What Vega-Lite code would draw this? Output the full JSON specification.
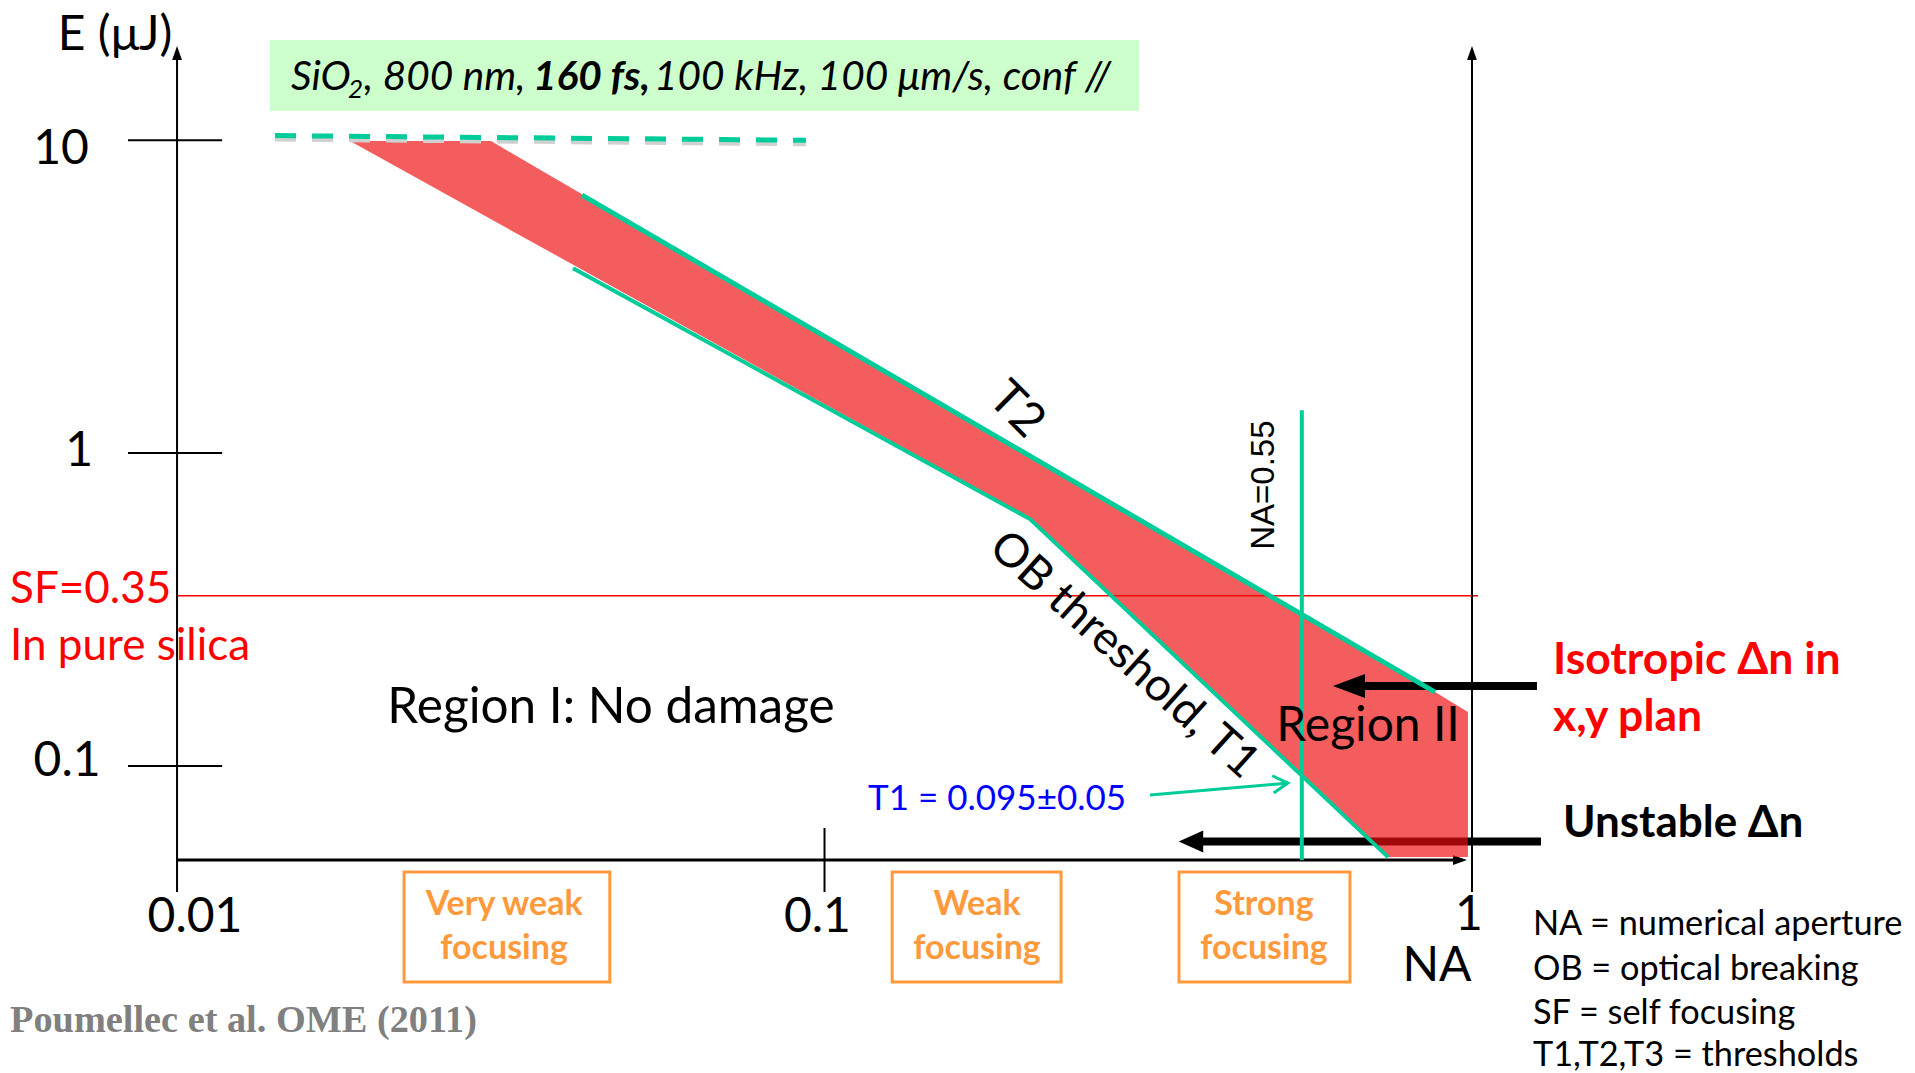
{
  "$schema": "https://vega.github.io/schema/vega-lite/v6.json",
  "width": 1915,
  "height": 1073,
  "autosize": {"type": "none"},
  "padding": 0,
  "background": "white",
  "config": {"view": {"stroke": null}},
  "datasets": {
    "banner": [{"na": 0.01392, "na2": 0.306, "e": 20.9, "e2": 12.4}],
    "boxes": [
      {"na": 0.02242, "na2": 0.0466, "e": 0.04578, "e2": 0.02037},
      {"na": 0.1272, "na2": 0.2319, "e": 0.04578, "e2": 0.02037},
      {"na": 0.3528, "na2": 0.648, "e": 0.04578, "e2": 0.02037}
    ],
    "sf": [{"na": 0.01, "na2": 1.0216, "e": 0.35}],
    "arrows": [
      {"label": "isotropic", "head": 0.6457, "tail": 1.26, "e": 0.18},
      {"label": "unstable", "head": 0.3681, "tail": 1.278, "e": 0.0573}
    ],
    "damage": [
      {"i": 1, "na": 0.0185, "e": 9.94},
      {"i": 2, "na": 0.03055, "e": 9.94},
      {"i": 3, "na": 0.877, "e": 0.1722},
      {"i": 4, "na": 0.9858, "e": 0.1486},
      {"i": 5, "na": 0.9858, "e": 0.0511},
      {"i": 6, "na": 0.742, "e": 0.0511},
      {"i": 7, "na": 0.2077, "e": 0.62}
    ],
    "limit": [{"i": 1, "na": 0.01417, "e": 10.35}, {"i": 2, "na": 0.0936, "e": 10.0}],
    "limitShadow": [{"i": 1, "na": 0.01417, "e": 10.05}, {"i": 2, "na": 0.0936, "e": 9.71}],
    "thresholds": [
      {"t": "T2", "i": 1, "na": 0.04222, "e": 6.68},
      {"t": "T2", "i": 2, "na": 0.877, "e": 0.1722},
      {"t": "T1", "i": 1, "na": 0.04088, "e": 3.9},
      {"t": "T1", "i": 2, "na": 0.2077, "e": 0.615},
      {"t": "T1", "i": 3, "na": 0.742, "e": 0.0511}
    ],
    "na055": [{"na": 0.546, "e": 1.37, "e2": 0.05}],
    "axesV": [{"na": 0.01, "e": 0.0395, "e2": 19.5}, {"na": 1.0, "e": 0.0395, "e2": 19.5}],
    "axisH": [{"na": 0.01, "na2": 0.96, "e": 0.05}],
    "yticks": [
      {"na": 0.0084, "na2": 0.01174, "e": 10},
      {"na": 0.0084, "na2": 0.01174, "e": 1},
      {"na": 0.0084, "na2": 0.01174, "e": 0.1}
    ],
    "xticks": [{"na": 0.1, "e": 0.0633, "e2": 0.0395}],
    "upHeads": [{"na": 0.01, "e": 19.0}, {"na": 1.0, "e": 19.0}],
    "rightHead": [{"na": 0.9583, "e": 0.05}],
    "pointer": [{"na": 0.3182, "na2": 0.5196, "e": 0.0807, "e2": 0.0881}],
    "mainText": [
      {"txt": "E (μJ)", "na": 0.008023, "e": 21.5},
      {"txt": "10", "na": 0.006619, "e": 9.3},
      {"txt": "1", "na": 0.007059, "e": 1.008},
      {"txt": "0.1", "na": 0.006764, "e": 0.1029},
      {"txt": "0.01", "na": 0.01066, "e": 0.03263},
      {"txt": "0.1", "na": 0.0975, "e": 0.03263},
      {"txt": "1", "na": 0.9895, "e": 0.0331},
      {"txt": "NA", "na": 0.883, "e": 0.02275},
      {"txt": "Region II", "na": 0.691, "e": 0.1331}
    ],
    "regionOne": [{"txt": "Region I: No damage", "na": 0.0468, "e": 0.153}],
    "t2": [{"txt": "T2", "na": 0.1976, "e": 1.37}],
    "ob": [{"txt": "OB threshold, T1", "na": 0.2901, "e": 0.226}],
    "naText": [{"txt": "NA=0.55", "na": 0.4773, "e": 0.79}],
    "redText": [
      {"txt": "SF=0.35", "na": 0.005522, "e": 0.3649},
      {"txt": "In pure silica", "na": 0.005522, "e": 0.2398}
    ],
    "blueText": [{"txt": "T1 = 0.095±0.05", "na": 0.1847, "e": 0.0783}],
    "isoText": [
      {"txt": "Isotropic Δn in", "na": 1.334, "e": 0.2164},
      {"txt": "x,y plan", "na": 1.334, "e": 0.1422}
    ],
    "unstableText": [{"txt": "Unstable Δn", "na": 1.382, "e": 0.0652}],
    "legendText": [
      {"txt": "NA = numerical aperture", "na": 1.242, "e": 0.03099},
      {"txt": "OB = optical breaking", "na": 1.242, "e": 0.02224},
      {"txt": "SF = self focusing", "na": 1.242, "e": 0.01609},
      {"txt": "T1,T2,T3 = thresholds", "na": 1.242, "e": 0.0118}
    ],
    "focusText": [
      {"txt": "Very weak", "na": 0.032, "e": 0.0359},
      {"txt": "focusing", "na": 0.032, "e": 0.02597},
      {"txt": "Weak", "na": 0.172, "e": 0.0359},
      {"txt": "focusing", "na": 0.172, "e": 0.02597},
      {"txt": "Strong", "na": 0.4773, "e": 0.0359},
      {"txt": "focusing", "na": 0.4773, "e": 0.02597}
    ],
    "citation": [{"txt": "Poumellec et al. OME  (2011)", "na": 0.005522, "e": 0.01528}],
    "bannerItalic": [
      {"txt": "SiO", "na": 0.015, "e": 14.47},
      {"txt": ", 800 nm,", "na": 0.01945, "e": 14.47},
      {"txt": "100 kHz, 100 μm/s, conf //", "na": 0.05454, "e": 14.47}
    ],
    "bannerBold": [{"txt": "160 fs,", "na": 0.03546, "e": 14.47}],
    "bannerSub": [{"txt": "2", "na": 0.01837, "e": 13.65}]
  },
  "layer": [
    {
      "data": {"name": "banner"},
      "mark": {"type": "rect", "color": "#CCFFCC"},
      "encoding": {
        "x": {"field": "na", "type": "quantitative", "scale": {"type": "log", "domain": [0.005328, 4.833], "nice": false}, "axis": null},
        "x2": {"field": "na2"},
        "y": {"field": "e", "type": "quantitative", "scale": {"type": "log", "domain": [0.010428, 28.08], "nice": false}, "axis": null},
        "y2": {"field": "e2"}
      }
    },
    {
      "data": {"name": "boxes"},
      "mark": {"type": "rect", "filled": false, "color": "#FF9A3C", "strokeWidth": 3},
      "encoding": {
        "x": {"field": "na", "type": "quantitative", "scale": {"type": "log", "domain": [0.005328, 4.833], "nice": false}, "axis": null},
        "x2": {"field": "na2"},
        "y": {"field": "e", "type": "quantitative", "scale": {"type": "log", "domain": [0.010428, 28.08], "nice": false}, "axis": null},
        "y2": {"field": "e2"}
      }
    },
    {
      "data": {"name": "sf"},
      "mark": {"type": "rule", "color": "#FF0000", "strokeWidth": 1.5},
      "encoding": {
        "x": {"field": "na", "type": "quantitative", "scale": {"type": "log", "domain": [0.005328, 4.833], "nice": false}, "axis": null},
        "x2": {"field": "na2"},
        "y": {"field": "e", "type": "quantitative", "scale": {"type": "log", "domain": [0.010428, 28.08], "nice": false}, "axis": null}
      }
    },
    {
      "data": {"name": "axesV"},
      "mark": {"type": "rule", "color": "black", "strokeWidth": 2},
      "encoding": {
        "x": {"field": "na", "type": "quantitative", "scale": {"type": "log", "domain": [0.005328, 4.833], "nice": false}, "axis": null},
        "y": {"field": "e", "type": "quantitative", "scale": {"type": "log", "domain": [0.010428, 28.08], "nice": false}, "axis": null},
        "y2": {"field": "e2"}
      }
    },
    {
      "data": {"name": "axisH"},
      "mark": {"type": "rule", "color": "black", "strokeWidth": 3},
      "encoding": {
        "x": {"field": "na", "type": "quantitative", "scale": {"type": "log", "domain": [0.005328, 4.833], "nice": false}, "axis": null},
        "x2": {"field": "na2"},
        "y": {"field": "e", "type": "quantitative", "scale": {"type": "log", "domain": [0.010428, 28.08], "nice": false}, "axis": null}
      }
    },
    {
      "data": {"name": "yticks"},
      "mark": {"type": "rule", "color": "black", "strokeWidth": 2},
      "encoding": {
        "x": {"field": "na", "type": "quantitative", "scale": {"type": "log", "domain": [0.005328, 4.833], "nice": false}, "axis": null},
        "x2": {"field": "na2"},
        "y": {"field": "e", "type": "quantitative", "scale": {"type": "log", "domain": [0.010428, 28.08], "nice": false}, "axis": null}
      }
    },
    {
      "data": {"name": "xticks"},
      "mark": {"type": "rule", "color": "black", "strokeWidth": 2},
      "encoding": {
        "x": {"field": "na", "type": "quantitative", "scale": {"type": "log", "domain": [0.005328, 4.833], "nice": false}, "axis": null},
        "y": {"field": "e", "type": "quantitative", "scale": {"type": "log", "domain": [0.010428, 28.08], "nice": false}, "axis": null},
        "y2": {"field": "e2"}
      }
    },
    {
      "data": {"name": "upHeads"},
      "mark": {"type": "point", "shape": "M0,-1L0.7,1L-0.7,1Z", "size": 196, "filled": true, "color": "black", "opacity": 1},
      "encoding": {
        "x": {"field": "na", "type": "quantitative", "scale": {"type": "log", "domain": [0.005328, 4.833], "nice": false}, "axis": null},
        "y": {"field": "e", "type": "quantitative", "scale": {"type": "log", "domain": [0.010428, 28.08], "nice": false}, "axis": null}
      }
    },
    {
      "data": {"name": "rightHead"},
      "mark": {"type": "point", "shape": "M0,-1L0.7,1L-0.7,1Z", "size": 196, "angle": 90, "filled": true, "color": "black", "opacity": 1},
      "encoding": {
        "x": {"field": "na", "type": "quantitative", "scale": {"type": "log", "domain": [0.005328, 4.833], "nice": false}, "axis": null},
        "y": {"field": "e", "type": "quantitative", "scale": {"type": "log", "domain": [0.010428, 28.08], "nice": false}, "axis": null}
      }
    },
    {
      "data": {"name": "arrows"},
      "transform": [{"filter": "datum.label == 'unstable'"}],
      "mark": {"type": "rule", "color": "black", "strokeWidth": 8},
      "encoding": {
        "x": {"field": "head", "type": "quantitative", "scale": {"type": "log", "domain": [0.005328, 4.833], "nice": false}, "axis": null},
        "x2": {"field": "tail"},
        "y": {"field": "e", "type": "quantitative", "scale": {"type": "log", "domain": [0.010428, 28.08], "nice": false}, "axis": null}
      }
    },
    {
      "data": {"name": "arrows"},
      "transform": [{"filter": "datum.label == 'unstable'"}],
      "mark": {"type": "point", "shape": "M-1,0L1,-0.9L1,0.9Z", "size": 600, "filled": true, "color": "black", "opacity": 1},
      "encoding": {
        "x": {"field": "head", "type": "quantitative", "scale": {"type": "log", "domain": [0.005328, 4.833], "nice": false}, "axis": null},
        "y": {"field": "e", "type": "quantitative", "scale": {"type": "log", "domain": [0.010428, 28.08], "nice": false}, "axis": null}
      }
    },
    {
      "data": {"name": "damage"},
      "mark": {"type": "line", "fill": "#EE0D0D", "fillOpacity": 0.67, "strokeOpacity": 0, "strokeWidth": 0},
      "encoding": {
        "x": {"field": "na", "type": "quantitative", "scale": {"type": "log", "domain": [0.005328, 4.833], "nice": false}, "axis": null},
        "y": {"field": "e", "type": "quantitative", "scale": {"type": "log", "domain": [0.010428, 28.08], "nice": false}, "axis": null},
        "order": {"field": "i", "type": "quantitative"}
      }
    },
    {
      "data": {"name": "arrows"},
      "transform": [{"filter": "datum.label == 'isotropic'"}],
      "mark": {"type": "rule", "color": "black", "strokeWidth": 8},
      "encoding": {
        "x": {"field": "head", "type": "quantitative", "scale": {"type": "log", "domain": [0.005328, 4.833], "nice": false}, "axis": null},
        "x2": {"field": "tail"},
        "y": {"field": "e", "type": "quantitative", "scale": {"type": "log", "domain": [0.010428, 28.08], "nice": false}, "axis": null}
      }
    },
    {
      "data": {"name": "arrows"},
      "transform": [{"filter": "datum.label == 'isotropic'"}],
      "mark": {"type": "point", "shape": "M-1,0L1,-0.75L1,0.75Z", "size": 1024, "filled": true, "color": "black", "opacity": 1},
      "encoding": {
        "x": {"field": "head", "type": "quantitative", "scale": {"type": "log", "domain": [0.005328, 4.833], "nice": false}, "axis": null},
        "y": {"field": "e", "type": "quantitative", "scale": {"type": "log", "domain": [0.010428, 28.08], "nice": false}, "axis": null}
      }
    },
    {
      "data": {"name": "limitShadow"},
      "mark": {"type": "line", "color": "#D0D0D0", "strokeWidth": 4, "strokeDash": [21, 16]},
      "encoding": {
        "x": {"field": "na", "type": "quantitative", "scale": {"type": "log", "domain": [0.005328, 4.833], "nice": false}, "axis": null},
        "y": {"field": "e", "type": "quantitative", "scale": {"type": "log", "domain": [0.010428, 28.08], "nice": false}, "axis": null},
        "order": {"field": "i", "type": "quantitative"}
      }
    },
    {
      "data": {"name": "limit"},
      "mark": {"type": "line", "color": "#00CC99", "strokeWidth": 5, "strokeDash": [21, 16]},
      "encoding": {
        "x": {"field": "na", "type": "quantitative", "scale": {"type": "log", "domain": [0.005328, 4.833], "nice": false}, "axis": null},
        "y": {"field": "e", "type": "quantitative", "scale": {"type": "log", "domain": [0.010428, 28.08], "nice": false}, "axis": null},
        "order": {"field": "i", "type": "quantitative"}
      }
    },
    {
      "data": {"name": "thresholds"},
      "transform": [{"filter": "datum.t == 'T2'"}],
      "mark": {"type": "line", "color": "#00CC99", "strokeWidth": 5},
      "encoding": {
        "x": {"field": "na", "type": "quantitative", "scale": {"type": "log", "domain": [0.005328, 4.833], "nice": false}, "axis": null},
        "y": {"field": "e", "type": "quantitative", "scale": {"type": "log", "domain": [0.010428, 28.08], "nice": false}, "axis": null},
        "order": {"field": "i", "type": "quantitative"}
      }
    },
    {
      "data": {"name": "thresholds"},
      "transform": [{"filter": "datum.t == 'T1'"}],
      "mark": {"type": "line", "color": "#00CC99", "strokeWidth": 4},
      "encoding": {
        "x": {"field": "na", "type": "quantitative", "scale": {"type": "log", "domain": [0.005328, 4.833], "nice": false}, "axis": null},
        "y": {"field": "e", "type": "quantitative", "scale": {"type": "log", "domain": [0.010428, 28.08], "nice": false}, "axis": null},
        "order": {"field": "i", "type": "quantitative"}
      }
    },
    {
      "data": {"name": "na055"},
      "mark": {"type": "rule", "color": "#00CC99", "strokeWidth": 4},
      "encoding": {
        "x": {"field": "na", "type": "quantitative", "scale": {"type": "log", "domain": [0.005328, 4.833], "nice": false}, "axis": null},
        "y": {"field": "e", "type": "quantitative", "scale": {"type": "log", "domain": [0.010428, 28.08], "nice": false}, "axis": null},
        "y2": {"field": "e2"}
      }
    },
    {
      "data": {"name": "pointer"},
      "mark": {"type": "rule", "color": "#00CC99", "strokeWidth": 3},
      "encoding": {
        "x": {"field": "na", "type": "quantitative", "scale": {"type": "log", "domain": [0.005328, 4.833], "nice": false}, "axis": null},
        "x2": {"field": "na2"},
        "y": {"field": "e", "type": "quantitative", "scale": {"type": "log", "domain": [0.010428, 28.08], "nice": false}, "axis": null},
        "y2": {"field": "e2"}
      }
    },
    {
      "data": {"name": "pointer"},
      "mark": {"type": "point", "shape": "M-1,-0.58L0,0L-1,0.58", "size": 900, "angle": 355, "filled": false, "color": "#00CC99", "strokeWidth": 3, "opacity": 1},
      "encoding": {
        "x": {"field": "na2", "type": "quantitative", "scale": {"type": "log", "domain": [0.005328, 4.833], "nice": false}, "axis": null},
        "y": {"field": "e2", "type": "quantitative", "scale": {"type": "log", "domain": [0.010428, 28.08], "nice": false}, "axis": null}
      }
    },
    {
      "data": {"name": "mainText"},
      "mark": {"type": "text", "font": "Lato", "fontSize": 48, "align": "center", "baseline": "middle", "color": "black"},
      "encoding": {
        "x": {"field": "na", "type": "quantitative", "scale": {"type": "log", "domain": [0.005328, 4.833], "nice": false}, "axis": null},
        "y": {"field": "e", "type": "quantitative", "scale": {"type": "log", "domain": [0.010428, 28.08], "nice": false}, "axis": null},
        "text": {"field": "txt"}
      }
    },
    {
      "data": {"name": "regionOne"},
      "mark": {"type": "text", "font": "Lato", "fontSize": 49.5, "align": "center", "baseline": "middle", "color": "black"},
      "encoding": {
        "x": {"field": "na", "type": "quantitative", "scale": {"type": "log", "domain": [0.005328, 4.833], "nice": false}, "axis": null},
        "y": {"field": "e", "type": "quantitative", "scale": {"type": "log", "domain": [0.010428, 28.08], "nice": false}, "axis": null},
        "text": {"field": "txt"}
      }
    },
    {
      "data": {"name": "t2"},
      "mark": {"type": "text", "font": "Lato", "fontSize": 48, "align": "center", "baseline": "middle", "color": "black", "angle": 45},
      "encoding": {
        "x": {"field": "na", "type": "quantitative", "scale": {"type": "log", "domain": [0.005328, 4.833], "nice": false}, "axis": null},
        "y": {"field": "e", "type": "quantitative", "scale": {"type": "log", "domain": [0.010428, 28.08], "nice": false}, "axis": null},
        "text": {"field": "txt"}
      }
    },
    {
      "data": {"name": "ob"},
      "mark": {"type": "text", "font": "Lato", "fontSize": 46, "align": "center", "baseline": "middle", "color": "black", "angle": 42},
      "encoding": {
        "x": {"field": "na", "type": "quantitative", "scale": {"type": "log", "domain": [0.005328, 4.833], "nice": false}, "axis": null},
        "y": {"field": "e", "type": "quantitative", "scale": {"type": "log", "domain": [0.010428, 28.08], "nice": false}, "axis": null},
        "text": {"field": "txt"}
      }
    },
    {
      "data": {"name": "naText"},
      "mark": {"type": "text", "font": "Liberation Sans", "fontSize": 33, "align": "center", "baseline": "middle", "color": "black", "angle": 270},
      "encoding": {
        "x": {"field": "na", "type": "quantitative", "scale": {"type": "log", "domain": [0.005328, 4.833], "nice": false}, "axis": null},
        "y": {"field": "e", "type": "quantitative", "scale": {"type": "log", "domain": [0.010428, 28.08], "nice": false}, "axis": null},
        "text": {"field": "txt"}
      }
    },
    {
      "data": {"name": "redText"},
      "mark": {"type": "text", "font": "Lato", "fontSize": 44, "align": "left", "baseline": "middle", "color": "#FF0000"},
      "encoding": {
        "x": {"field": "na", "type": "quantitative", "scale": {"type": "log", "domain": [0.005328, 4.833], "nice": false}, "axis": null},
        "y": {"field": "e", "type": "quantitative", "scale": {"type": "log", "domain": [0.010428, 28.08], "nice": false}, "axis": null},
        "text": {"field": "txt"}
      }
    },
    {
      "data": {"name": "blueText"},
      "mark": {"type": "text", "font": "Lato", "fontSize": 35, "align": "center", "baseline": "middle", "color": "#0000FF"},
      "encoding": {
        "x": {"field": "na", "type": "quantitative", "scale": {"type": "log", "domain": [0.005328, 4.833], "nice": false}, "axis": null},
        "y": {"field": "e", "type": "quantitative", "scale": {"type": "log", "domain": [0.010428, 28.08], "nice": false}, "axis": null},
        "text": {"field": "txt"}
      }
    },
    {
      "data": {"name": "isoText"},
      "mark": {"type": "text", "font": "Lato", "fontSize": 44.5, "fontWeight": "bold", "align": "left", "baseline": "middle", "color": "#FF0000"},
      "encoding": {
        "x": {"field": "na", "type": "quantitative", "scale": {"type": "log", "domain": [0.005328, 4.833], "nice": false}, "axis": null},
        "y": {"field": "e", "type": "quantitative", "scale": {"type": "log", "domain": [0.010428, 28.08], "nice": false}, "axis": null},
        "text": {"field": "txt"}
      }
    },
    {
      "data": {"name": "unstableText"},
      "mark": {"type": "text", "font": "Lato", "fontSize": 44, "fontWeight": "bold", "align": "left", "baseline": "middle", "color": "black"},
      "encoding": {
        "x": {"field": "na", "type": "quantitative", "scale": {"type": "log", "domain": [0.005328, 4.833], "nice": false}, "axis": null},
        "y": {"field": "e", "type": "quantitative", "scale": {"type": "log", "domain": [0.010428, 28.08], "nice": false}, "axis": null},
        "text": {"field": "txt"}
      }
    },
    {
      "data": {"name": "legendText"},
      "mark": {"type": "text", "font": "Lato", "fontSize": 34.3, "align": "left", "baseline": "middle", "color": "black"},
      "encoding": {
        "x": {"field": "na", "type": "quantitative", "scale": {"type": "log", "domain": [0.005328, 4.833], "nice": false}, "axis": null},
        "y": {"field": "e", "type": "quantitative", "scale": {"type": "log", "domain": [0.010428, 28.08], "nice": false}, "axis": null},
        "text": {"field": "txt"}
      }
    },
    {
      "data": {"name": "focusText"},
      "mark": {"type": "text", "font": "Lato", "fontSize": 34, "fontWeight": "bold", "align": "center", "baseline": "middle", "color": "#FF9A3C"},
      "encoding": {
        "x": {"field": "na", "type": "quantitative", "scale": {"type": "log", "domain": [0.005328, 4.833], "nice": false}, "axis": null},
        "y": {"field": "e", "type": "quantitative", "scale": {"type": "log", "domain": [0.010428, 28.08], "nice": false}, "axis": null},
        "text": {"field": "txt"}
      }
    },
    {
      "data": {"name": "citation"},
      "mark": {"type": "text", "font": "Liberation Serif", "fontSize": 38.3, "fontWeight": "bold", "align": "left", "baseline": "middle", "color": "#808080"},
      "encoding": {
        "x": {"field": "na", "type": "quantitative", "scale": {"type": "log", "domain": [0.005328, 4.833], "nice": false}, "axis": null},
        "y": {"field": "e", "type": "quantitative", "scale": {"type": "log", "domain": [0.010428, 28.08], "nice": false}, "axis": null},
        "text": {"field": "txt"}
      }
    },
    {
      "data": {"name": "bannerItalic"},
      "mark": {"type": "text", "font": "Lato", "fontSize": 40.6, "fontStyle": "italic", "align": "left", "baseline": "alphabetic", "color": "black"},
      "encoding": {
        "x": {"field": "na", "type": "quantitative", "scale": {"type": "log", "domain": [0.005328, 4.833], "nice": false}, "axis": null},
        "y": {"field": "e", "type": "quantitative", "scale": {"type": "log", "domain": [0.010428, 28.08], "nice": false}, "axis": null},
        "text": {"field": "txt"}
      }
    },
    {
      "data": {"name": "bannerBold"},
      "mark": {"type": "text", "font": "Lato", "fontSize": 40.6, "fontStyle": "italic", "fontWeight": "bold", "align": "left", "baseline": "alphabetic", "color": "black"},
      "encoding": {
        "x": {"field": "na", "type": "quantitative", "scale": {"type": "log", "domain": [0.005328, 4.833], "nice": false}, "axis": null},
        "y": {"field": "e", "type": "quantitative", "scale": {"type": "log", "domain": [0.010428, 28.08], "nice": false}, "axis": null},
        "text": {"field": "txt"}
      }
    },
    {
      "data": {"name": "bannerSub"},
      "mark": {"type": "text", "font": "Lato", "fontSize": 26, "fontStyle": "italic", "align": "left", "baseline": "alphabetic", "color": "black"},
      "encoding": {
        "x": {"field": "na", "type": "quantitative", "scale": {"type": "log", "domain": [0.005328, 4.833], "nice": false}, "axis": null},
        "y": {"field": "e", "type": "quantitative", "scale": {"type": "log", "domain": [0.010428, 28.08], "nice": false}, "axis": null},
        "text": {"field": "txt"}
      }
    }
  ]
}
